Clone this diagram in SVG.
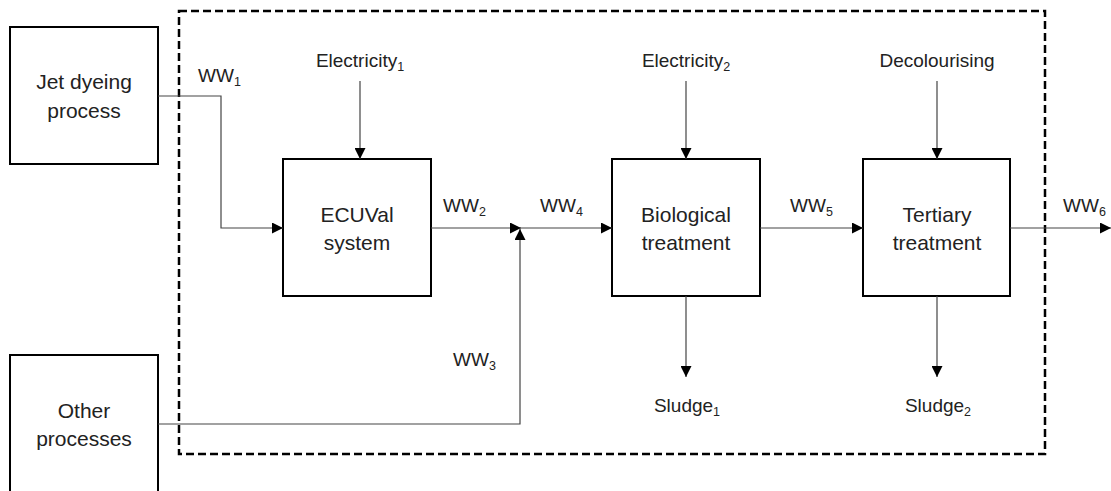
<svg xmlns="http://www.w3.org/2000/svg" width="1111" height="491" viewBox="0 0 1111 491">
<style>
.box{fill:#fff;stroke:#000;stroke-width:2}
.bt{font-family:"Liberation Sans",Arial,sans-serif;font-size:21px;fill:#222;text-anchor:middle}
.lb{font-family:"Liberation Sans",Arial,sans-serif;font-size:19px;fill:#222}
.sub{font-size:12.5px}
.ln{fill:none;stroke:#444;stroke-width:1.2}
.dash{fill:none;stroke:#000;stroke-width:2.5;stroke-dasharray:8,4}
</style>
<defs>
<marker id="ah" viewBox="0 0 10 10" refX="10" refY="5" markerWidth="11" markerHeight="11" markerUnits="userSpaceOnUse" orient="auto">
<path d="M0,0 L10,5 L0,10 z" fill="#000"/>
</marker>
</defs>
<rect width="1111" height="491" fill="#fff"/>
<rect id="boundary" class="dash" x="179" y="11" width="866" height="443"/>
<g id="jet"><rect class="box" x="10" y="27" width="148" height="137"/><text class="bt" x="84" y="89">Jet dyeing</text><text class="bt" x="84" y="118">process</text></g>
<g id="other"><rect class="box" x="10" y="355" width="148" height="140"/><text class="bt" x="84" y="418">Other</text><text class="bt" x="84" y="446">processes</text></g>
<g id="ecuval"><rect class="box" x="283" y="159" width="148" height="137"/><text class="bt" x="357" y="222">ECUVal</text><text class="bt" x="357" y="250">system</text></g>
<g id="bio"><rect class="box" x="612" y="159" width="148" height="137"/><text class="bt" x="686" y="222">Biological</text><text class="bt" x="686" y="250">treatment</text></g>
<g id="tert"><rect class="box" x="863" y="159" width="147" height="137"/><text class="bt" x="937" y="222">Tertiary</text><text class="bt" x="937" y="250">treatment</text></g>
<g id="connectors">
<polyline class="ln" points="158,96 221,96 221,228 283,228" marker-end="url(#ah)"/>
<line class="ln" x1="360" y1="81" x2="360" y2="159" marker-end="url(#ah)"/>
<line class="ln" x1="431" y1="228" x2="521" y2="228" marker-end="url(#ah)"/>
<polyline class="ln" points="158,424 520,424 520,229" marker-end="url(#ah)"/>
<line class="ln" x1="520" y1="228" x2="612" y2="228" marker-end="url(#ah)"/>
<line class="ln" x1="686" y1="81" x2="686" y2="159" marker-end="url(#ah)"/>
<line class="ln" x1="686" y1="296" x2="686" y2="377" marker-end="url(#ah)"/>
<line class="ln" x1="760" y1="228" x2="863" y2="228" marker-end="url(#ah)"/>
<line class="ln" x1="937" y1="81" x2="937" y2="159" marker-end="url(#ah)"/>
<line class="ln" x1="937" y1="296" x2="937" y2="377" marker-end="url(#ah)"/>
<line class="ln" x1="1010" y1="228" x2="1111" y2="228" marker-end="url(#ah)"/>
</g>
<g id="labels">
<text class="lb" x="198" y="82">WW<tspan class="sub" dy="4">1</tspan></text>
<text class="lb" x="360" y="67" text-anchor="middle">Electricity<tspan class="sub" dy="4">1</tspan></text>
<text class="lb" x="443" y="212">WW<tspan class="sub" dy="4">2</tspan></text>
<text class="lb" x="540" y="212">WW<tspan class="sub" dy="4">4</tspan></text>
<text class="lb" x="453" y="366">WW<tspan class="sub" dy="4">3</tspan></text>
<text class="lb" x="686" y="67" text-anchor="middle">Electricity<tspan class="sub" dy="4">2</tspan></text>
<text class="lb" x="790" y="212">WW<tspan class="sub" dy="4">5</tspan></text>
<text class="lb" x="937" y="67" text-anchor="middle">Decolourising</text>
<text class="lb" x="1063" y="212">WW<tspan class="sub" dy="4">6</tspan></text>
<text class="lb" x="687" y="412" text-anchor="middle">Sludge<tspan class="sub" dy="4">1</tspan></text>
<text class="lb" x="938" y="412" text-anchor="middle">Sludge<tspan class="sub" dy="4">2</tspan></text>
</g>
</svg>
